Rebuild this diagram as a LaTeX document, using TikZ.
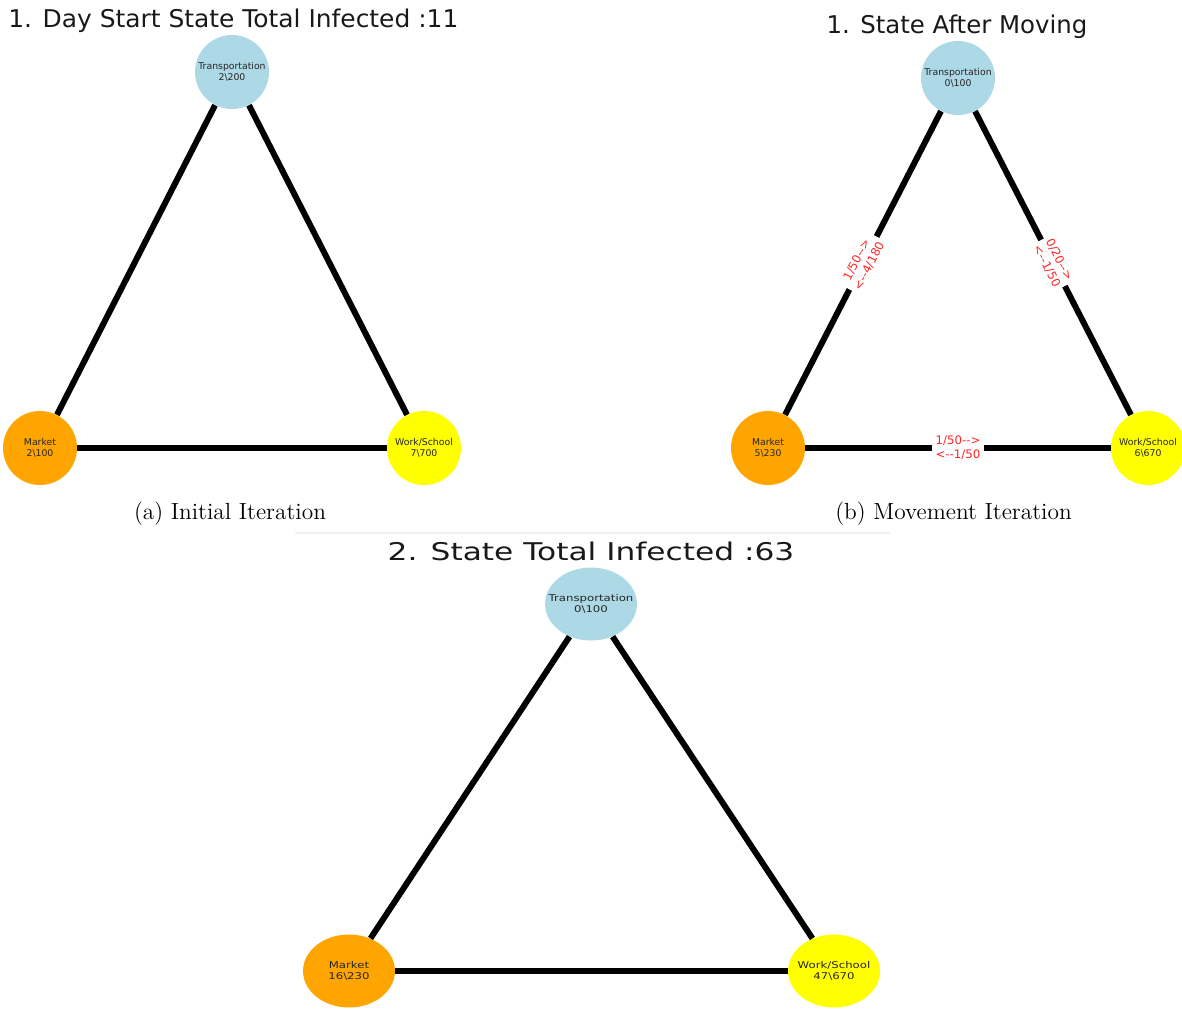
\documentclass[tikz,border=0pt]{standalone}
\usepackage{fontspec}
\newfontfamily\dejavu{DejaVu Sans}
\definecolor{tlblue}{HTML}{ADD8E6}
\definecolor{tlorange}{HTML}{FFA500}
\definecolor{tlyellow}{HTML}{FFFF00}
\begin{document}
\begin{tikzpicture}[x=0.02cm,y=-0.02cm,
  place/.style={circle, minimum size=1.48cm, inner sep=0pt, draw=none,
    align=center, text=black!85, font=\dejavu\fontsize{5.3}{6.2}\selectfont},
  wide/.style={xscale=1.26, transform shape, minimum size=1.46cm},
  transp/.style={place, fill=tlblue},
  market/.style={place, fill=tlorange},
  work/.style={place, fill=tlyellow},
  link/.style={line width=3.4pt, black},
  flow/.style={midway, sloped, fill=white, inner sep=2pt, align=center,
    text=red!85, font=\dejavu\fontsize{6.7}{7.9}\selectfont},
  heading/.style={text=black!90, font=\dejavu\fontsize{13.9}{16}\selectfont, inner sep=0pt},
  caption/.style={font=\fontsize{13.3}{16}\selectfont, inner sep=0pt, anchor=base}]
\clip (0,0) rectangle (1182,1010);

% (a) day start
\node[heading, anchor=base west] (ta) at (8,28) {\scalebox{1.02}[1]{1. Day Start State Total Infected :11}};
\node[transp] (a1) at (232,72) {Transportation\\2\textbackslash 200};
\node[market] (a2) at (40,448) {Market\\2\textbackslash 100};
\node[work]   (a3) at (424,448) {Work/School\\7\textbackslash 700};
\draw[link] (a2) -- (a1);
\draw[link] (a1) -- (a3);
\draw[link] (a2) -- (a3);
\node[caption] (ca) at (230,519) {(a) Initial Iteration};

% (b) after moving
\node[heading, anchor=base] (tb) at (957,34) {1. State After Moving};
\node[transp] (b1) at (958,78) {Transportation\\0\textbackslash 100};
\node[market] (b2) at (768,448) {Market\\5\textbackslash 230};
\node[work]   (b3) at (1148,448) {Work/School\\6\textbackslash 670};
\draw[link] (b2) -- node[flow] {1/50-->\\<--4/180} (b1);
\draw[link] (b1) -- node[flow] {0/20-->\\<--1/50} (b3);
\draw[link] (b2) -- node[flow] {1/50-->\\<--1/50} (b3);
\node[caption] (cb) at (953.5,519) {(b) Movement Iteration};

% (c) next state
\draw[gray!12, line width=0.6pt] (295,533) -- (890,533);
\node[heading, anchor=base] (tc) at (591,560) {\scalebox{1.28}[1]{2. State Total Infected :63}};
\node[transp, wide] (c1) at (591,604) {Transportation\\0\textbackslash 100};
\node[market, wide] (c2) at (349,971) {Market\\16\textbackslash 230};
\node[work, wide]   (c3) at (834,971) {Work/School\\47\textbackslash 670};
\draw[link] (c2) -- (c1);
\draw[link] (c1) -- (c3);
\draw[link] (c2) -- (c3);
\end{tikzpicture}
\end{document}
